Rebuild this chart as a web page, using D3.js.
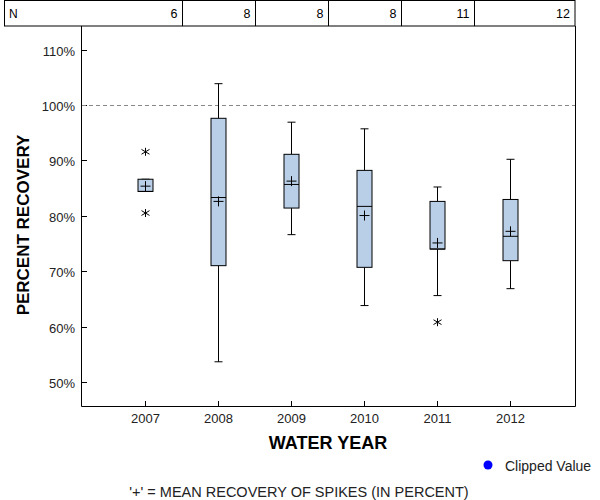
<!DOCTYPE html>
<html><head><meta charset="utf-8">
<script src="https://cdn.jsdelivr.net/npm/d3@7"></script>
<style>body{margin:0;background:#fff}svg{display:block}text{font-family:"Liberation Sans",Arial,sans-serif}</style>
</head><body>
<script>
const years = [2007, 2008, 2009, 2010, 2011, 2012];
const nCounts = [6, 8, 8, 8, 11, 12];
const whiskerLow = [84.4, 53.65, 76.6, 63.8, 65.6, 66.85];
const q1 = [84.4, 71.0, 81.4, 70.7, 74.0, 71.9];
const median = [84.4, 83.3, 85.66, 81.7, 74.0, 76.3];
const q3 = [86.6, 97.6, 91.1, 88.2, 82.6, 82.95];
const whiskerHigh = [86.6, 103.85, 96.9, 95.7, 85.2, 90.2];
const means = [85.35, 82.6, 86.26, 80.05, 75.1, 77.2];
const outlierYears = [2007, 2007, 2011];
const outlierValues = [91.55, 80.5, 60.8];
const yTicks = [50, 60, 70, 80, 90, 100, 110];
const refValue = 100;

const W = 600, H = 500;
const svg = d3.select("body").append("svg").attr("width", W).attr("height", H);
const L = 81, R = 575, T = 26, B = 406;
const x = d3.scaleLinear().domain([2006.123, 2012.89]).range([L, R]);
const y = d3.scaleLinear().domain([45.67, 114.26]).range([B, T]);

// N table
const tbl = svg.append("g");
tbl.append("rect").attr("x", 4.5).attr("y", 0.5).attr("width", R - 4.5).attr("height", T - 0.5)
  .attr("fill", "none").attr("stroke", "#000");
years.slice(0, -1).forEach(yr => {
  const xd = Math.round(x(yr + 0.5)) + 0.5;
  tbl.append("line").attr("x1", xd).attr("x2", xd).attr("y1", 0.5).attr("y2", T).attr("stroke", "#000");
});
tbl.append("text").attr("x", 9).attr("y", 18).attr("font-size", 12).text("N");
years.forEach((yr, i) => {
  const right = i === years.length - 1 ? R - 5 : x(yr + 0.5) - 4;
  tbl.append("text").attr("x", right).attr("y", 18).attr("font-size", 12.5)
    .attr("text-anchor", "end").text(nCounts[i]);
});

// frame
svg.append("path").attr("d", `M${L+0.5},${T}V${B+0.5}H${R+0.5}V${T}`).attr("fill", "none").attr("stroke", "#000");

// y axis ticks (inward)
const ya = svg.append("g");
yTicks.forEach(v => {
  const yy = Math.round(y(v)) + 0.5;
  ya.append("line").attr("x1", L).attr("x2", L + 6).attr("y1", yy).attr("y2", yy).attr("stroke", "#000");
  ya.append("text").attr("x", 75).attr("y", yy + 5).attr("text-anchor", "end")
    .attr("font-size", 13).attr("fill", "#222").text(v + "%");
});
// x axis ticks (inward)
years.forEach(yr => {
  const xx = Math.round(x(yr)) + 0.5;
  svg.append("line").attr("x1", xx).attr("x2", xx).attr("y1", B).attr("y2", B - 5).attr("stroke", "#000");
  svg.append("text").attr("x", xx).attr("y", 423).attr("text-anchor", "middle")
    .attr("font-size", 13).attr("fill", "#222").text(yr);
});

// reference line
svg.append("line").attr("x1", L + 1).attr("x2", R).attr("y1", Math.round(y(refValue)) + 0.5).attr("y2", Math.round(y(refValue)) + 0.5)
  .attr("stroke", "#888").attr("stroke-dasharray", "4,3");

// boxes
const bw = 15, cap = 8, pm = 5;
years.forEach((yr, i) => {
  const cx = Math.round(x(yr)) + 0.5;
  const g = svg.append("g").attr("stroke", "#000").attr("stroke-width", 1);
  g.append("line").attr("x1", cx).attr("x2", cx).attr("y1", y(whiskerHigh[i])).attr("y2", y(q3[i]));
  g.append("line").attr("x1", cx).attr("x2", cx).attr("y1", y(q1[i])).attr("y2", y(whiskerLow[i]));
  g.append("line").attr("x1", cx - cap / 2).attr("x2", cx + cap / 2).attr("y1", y(whiskerHigh[i])).attr("y2", y(whiskerHigh[i]));
  g.append("line").attr("x1", cx - cap / 2).attr("x2", cx + cap / 2).attr("y1", y(whiskerLow[i])).attr("y2", y(whiskerLow[i]));
  g.append("rect").attr("x", cx - bw / 2).attr("width", bw).attr("y", y(q3[i])).attr("height", y(q1[i]) - y(q3[i]))
    .attr("fill", "#b9cfe7");
  g.append("line").attr("x1", cx - bw / 2).attr("x2", cx + bw / 2).attr("y1", y(median[i])).attr("y2", y(median[i]));
  const my = y(means[i]);
  g.append("line").attr("x1", cx - pm).attr("x2", cx + pm).attr("y1", my).attr("y2", my);
  g.append("line").attr("x1", cx).attr("x2", cx).attr("y1", my - pm).attr("y2", my + pm);
});

// outliers (asterisks)
outlierYears.forEach((yr, i) => {
  const cx = Math.round(x(yr)) + 0.5, cy = y(outlierValues[i]);
  const s = 4;
  svg.append("path").attr("d", `M${cx},${cy - s}V${cy + s}M${cx - s},${cy - s * 0.6}L${cx + s},${cy + s * 0.6}M${cx - s},${cy + s * 0.6}L${cx + s},${cy - s * 0.6}`)
    .attr("stroke", "#000").attr("fill", "none");
});

// axis titles
svg.append("text").attr("x", 328).attr("y", 449).attr("text-anchor", "middle")
  .attr("font-size", 18).attr("font-weight", "bold").text("WATER YEAR");
svg.append("text").attr("transform", "translate(29,225) rotate(-90)").attr("text-anchor", "middle")
  .attr("font-size", 17).attr("font-weight", "bold").text("PERCENT RECOVERY");

// legend
svg.append("circle").attr("cx", 488).attr("cy", 465).attr("r", 4.5).attr("fill", "#0000ff");
svg.append("text").attr("x", 505).attr("y", 471).attr("font-size", 14).attr("fill", "#222").text("Clipped Value");

// footnote
svg.append("text").attr("x", 299).attr("y", 497).attr("text-anchor", "middle").attr("font-size", 14.5)
  .attr("fill", "#222").text("'+' = MEAN RECOVERY OF SPIKES (IN PERCENT)");
</script>
</body></html>
